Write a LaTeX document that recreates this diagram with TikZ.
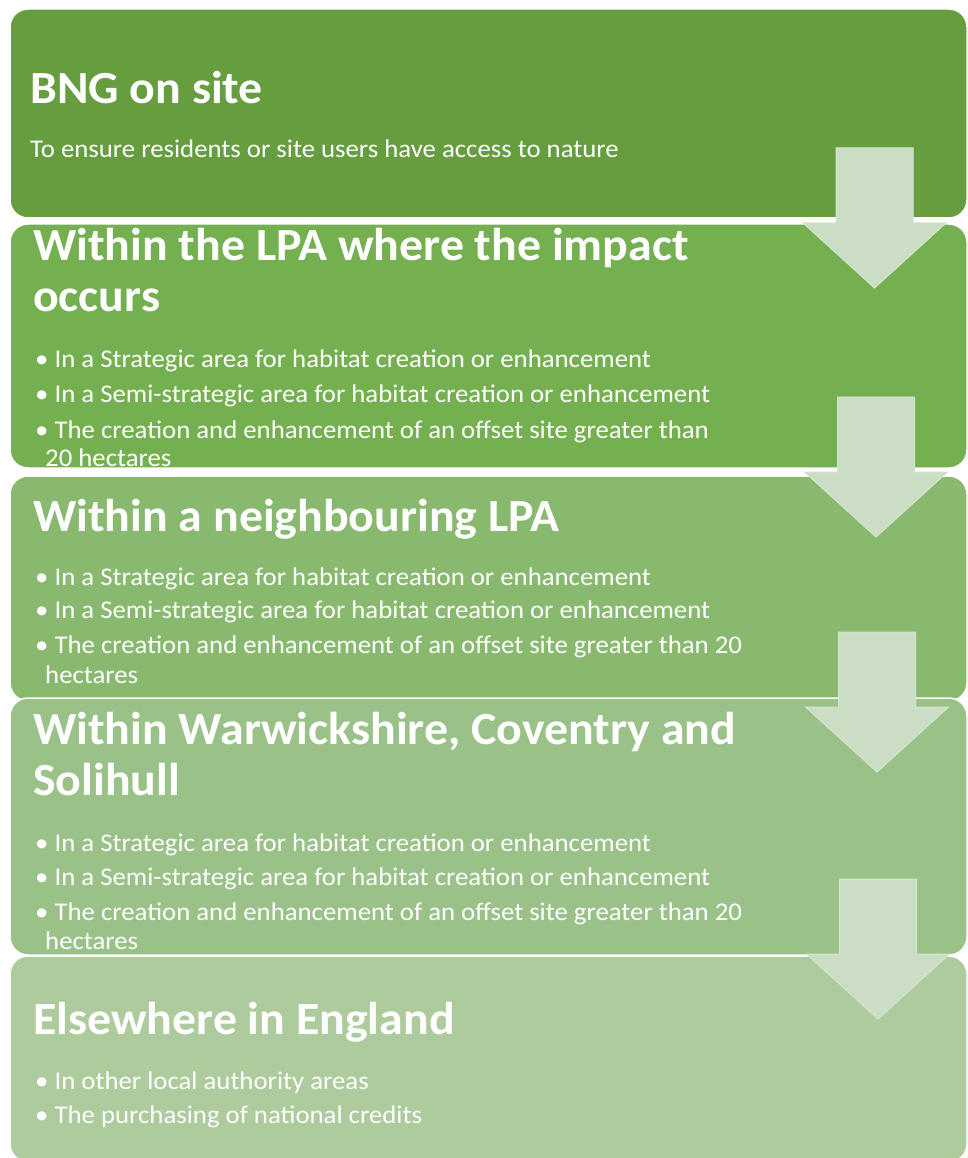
\documentclass[tikz,border=0pt]{standalone}
\usepackage{fontspec}
\setmainfont{Carlito}
\newfontfamily\titlefont[FakeStretch=1.04]{Carlito}
\newfontfamily\bodyfont[FakeStretch=1.05]{Carlito}
\definecolor{gA}{RGB}{101,157,63}
\definecolor{gB}{RGB}{117,176,80}
\definecolor{gC}{RGB}{136,185,110}
\definecolor{gD}{RGB}{154,194,136}
\definecolor{gE}{RGB}{173,203,157}
\definecolor{arrfill}{RGB}{203,221,196}
\definecolor{arredge}{RGB}{214,229,208}
\newcommand\bngarrow[3]{%
  \draw[arr] ({#2-38.5},{#3}) coordinate (#1) -- ({#2+38.5},{#3}) -- ({#2+38.5},{#3+75}) -- ({#2+71.5},{#3+75})
    -- ({#2},{#3+140}) -- ({#2-71.5},{#3+75}) -- ({#2-38.5},{#3+75}) -- cycle;}
\begin{document}
\begin{tikzpicture}[x=1pt,y=-1pt,
  box/.style={draw=white, line width=1.5pt, rounded corners=18pt},
  arr/.style={fill=arrfill, draw=arredge, line width=1pt},
  title/.style={font=\titlefont\fontsize{46}{50}\selectfont\bfseries, text=white, inner sep=0pt, anchor=base west},
  body/.style={font=\bodyfont\fontsize{25.5}{28}\selectfont, text=white, inner sep=0pt, anchor=base west}]
\fill[white] (0,0) rectangle (967,1158);
\clip (0,0) rectangle (967,1158);
% boxes
\draw[box, fill=gA] (10,9) rectangle (967,218);
\draw[box, fill=gB] (10,224) rectangle (967,468);
\draw[box, fill=gC] (10,476) rectangle (967,701);
\draw[box, fill=gD] (10,698) rectangle (967,955);
\draw[box, fill=gE] (10,956) rectangle (967,1162);
% arrows
\bngarrow{a1}{874.5}{148}
\bngarrow{a2}{876}{397}
\bngarrow{a3}{877}{632}
\bngarrow{a4}{878}{879}
% box 1
\node[title] (t1) at (30,104) {BNG on site};
\node[body] (b11) at (30,158) {To ensure residents or site users have access to nature};
% box 2
\node[title] (t2a) at (33,260) {Within the LPA where the impact};
\node[title] (t2b) at (33,311) {occurs};
\node[body] (b21) at (35,367) {• In a Strategic area for habitat creation or enhancement};
\node[body] (b22) at (35,402) {• In a Semi-strategic area for habitat creation or enhancement};
\node[body] (b23) at (35,438) {• The creation and enhancement of an offset site greater than};
\node[body] (b24) at (45,466) {20 hectares};
% box 3
\node[title] (t3) at (33,531) {Within a neighbouring LPA};
\node[body] (b31) at (35,585) {• In a Strategic area for habitat creation or enhancement};
\node[body] (b32) at (35,618) {• In a Semi-strategic area for habitat creation or enhancement};
\node[body] (b33) at (35,653) {• The creation and enhancement of an offset site greater than 20};
\node[body] (b34) at (45,683) {hectares};
% box 4
\node[title] (t4a) at (33,744) {Within Warwickshire, Coventry and};
\node[title] (t4b) at (33,795) {Solihull};
\node[body] (b41) at (35,851) {• In a Strategic area for habitat creation or enhancement};
\node[body] (b42) at (35,885) {• In a Semi-strategic area for habitat creation or enhancement};
\node[body] (b43) at (35,920) {• The creation and enhancement of an offset site greater than 20};
\node[body] (b44) at (45,949) {hectares};
% box 5
\node[title] (t5) at (33,1034) {Elsewhere in England};
\node[body] (b51) at (35,1089) {• In other local authority areas};
\node[body] (b52) at (35,1123) {• The purchasing of national credits};
\end{tikzpicture}
\end{document}
